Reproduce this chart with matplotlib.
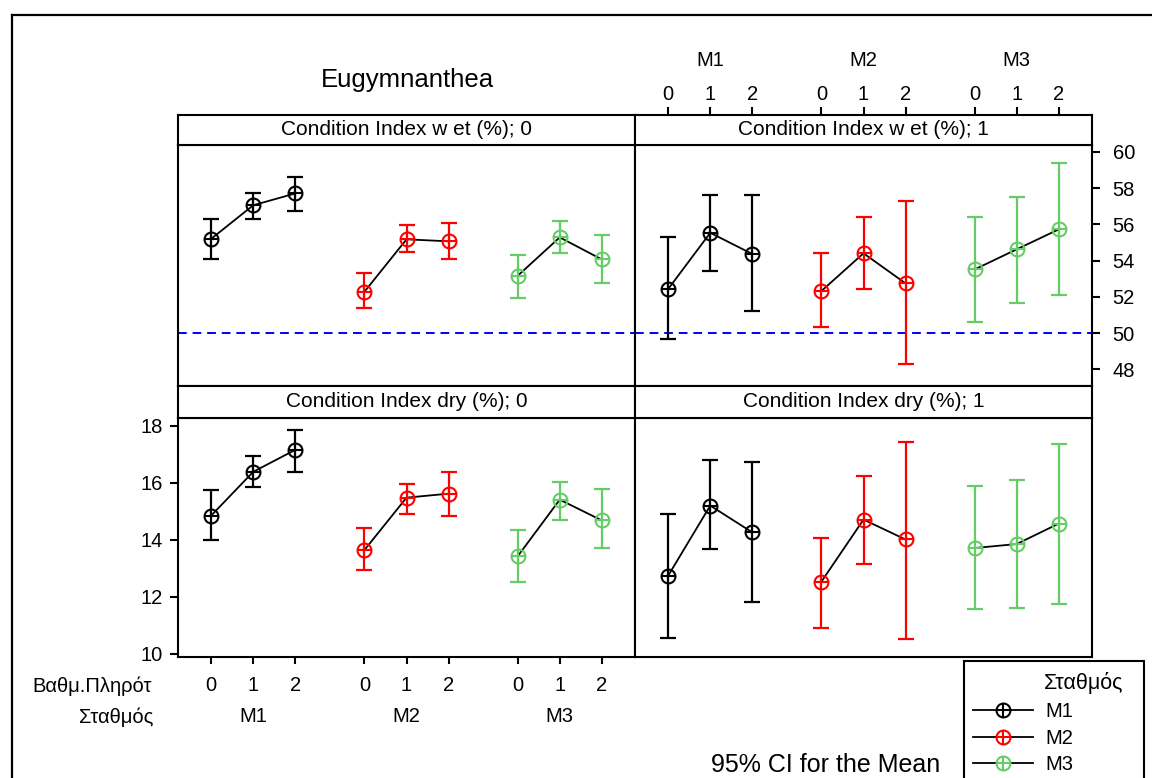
import matplotlib
matplotlib.use('Agg')
import matplotlib.pyplot as plt
from matplotlib.lines import Line2D
from matplotlib.patches import Rectangle
from matplotlib.legend_handler import HandlerTuple
import matplotlib.transforms as mtransforms
import numpy as np

plt.rcParams['font.family'] = ['Liberation Sans', 'DejaVu Sans']

# ---------------- data ----------------
stations = ['M1', 'M2', 'M3']
levels = ['0', '1', '2']
station_colors = ['#000000', '#FF0000', '#66CC66']

# Condition Index wet (%); 0   rows = stations, cols = levels
wet0_mean = [[55.20, 57.05, 57.70], [52.28, 55.17, 55.06], [53.16, 55.28, 54.06]]
wet0_low = [[54.08, 56.29, 56.73], [51.40, 54.49, 54.06], [51.95, 54.40, 52.76]]
wet0_high = [[56.29, 57.74, 58.60], [53.31, 55.94, 56.07], [54.30, 56.18, 55.39]]

# Condition Index wet (%); 1
wet1_mean = [[52.43, 55.53, 54.36], [52.32, 54.40, 52.74], [53.51, 54.62, 55.72]]
wet1_low = [[49.65, 53.40, 51.20], [50.32, 52.41, 48.29], [50.63, 51.64, 52.08]]
wet1_high = [[55.28, 57.59, 57.59], [54.40, 56.38, 57.30], [56.38, 57.48, 59.39]]

# Condition Index dry (%); 0
dry0_mean = [[14.85, 16.39, 17.16], [13.64, 15.48, 15.62], [13.42, 15.41, 14.68]]
dry0_low = [[13.99, 15.84, 16.39], [12.94, 14.92, 14.85], [12.53, 14.71, 13.71]]
dry0_high = [[15.76, 16.94, 17.86], [14.43, 15.97, 16.39], [14.34, 16.04, 15.77]]

# Condition Index dry (%); 1
dry1_mean = [[12.74, 15.20, 14.26], [12.53, 14.71, 14.01], [13.71, 13.85, 14.57]]
dry1_low = [[10.56, 13.66, 11.83], [10.91, 13.16, 10.50], [11.55, 11.61, 11.76]]
dry1_high = [[14.91, 16.81, 16.75], [14.06, 16.25, 17.44], [15.89, 16.11, 17.38]]

strip_titles = ['Condition Index w et (%); 0', 'Condition Index w et (%); 1',
                'Condition Index dry (%); 0', 'Condition Index dry (%); 1']
wet_ticks = [48, 50, 52, 54, 56, 58, 60]
dry_ticks = [10, 12, 14, 16, 18]
ref_value = 50
title = 'Eugymnanthea'
ci_note = '95% CI for the Mean'
level_name = 'Βαθμ.Πληρότ'
group_name = 'Σταθμός'

# ---------------- layout ----------------
W, H = 1152, 778
fig = plt.figure(figsize=(W / 100, H / 100), dpi=100)
fig.patch.set_facecolor('white')


def fx(px):
    return px / W


def fy(py):
    return 1 - py / H


group_step = 3.645
xpos = [[g * group_step + j for j in range(len(levels))] for g in range(len(stations))]
xlim = (-0.79, xpos[-1][-1] + 0.79)
wet_lim = (47.08, 60.40)
dry_lim = (9.88, 18.29)

cols = [(178, 635), (635, 1092)]
rows = [(115, 144.5, 386), (386, 417.7, 657)]

panels = [
    (wet0_mean, wet0_low, wet0_high),
    (wet1_mean, wet1_low, wet1_high),
    (dry0_mean, dry0_low, dry0_high),
    (dry1_mean, dry1_low, dry1_high),
]

LW = 1.5
axes = []
strips = []
for r, (st, pt, pb) in enumerate(rows):
    for c, (x0, x1) in enumerate(cols):
        ax = fig.add_axes([fx(x0), fy(pb), (x1 - x0) / W, (pb - pt) / H])
        sax = fig.add_axes([fx(x0), fy(pt), (x1 - x0) / W, (pt - st) / H])
        for a in (ax, sax):
            a.set_xlim(*xlim)
            a.set_xticks([])
            a.set_yticks([])
            for s in a.spines.values():
                s.set_linewidth(LW)
        sax.set_ylim(0, 1)
        sax.text(0.5, 0.5, strip_titles[r * 2 + c], transform=sax.transAxes,
                 ha='center', va='center', fontsize=15)
        ax.set_ylim(*(wet_lim if r == 0 else dry_lim))
        axes.append(ax)
        strips.append(sax)

MS = 10
MEW = 1.5
for k, ax in enumerate(axes):
    mean, low, high = panels[k]
    if k < 2:
        ax.axhline(ref_value, color='#0000FF', lw=1.4, ls=(0, (4.5, 3)), zorder=1)
    for g in range(len(stations)):
        m = np.array(mean[g])
        lo = np.array(low[g])
        hi = np.array(high[g])
        col = station_colors[g]
        ax.errorbar(xpos[g], m, yerr=[m - lo, hi - m], fmt='none', ecolor=col,
                    elinewidth=1.6, capsize=5.8, capthick=1.6, zorder=2)
        ax.plot(xpos[g], m, color='black', lw=1.3, zorder=3)
        ax.plot(xpos[g], m, ls='none', marker='o', ms=MS, mfc='none', mec=col,
                mew=MEW, zorder=4)
        ax.plot(xpos[g], m, ls='none', marker='+', ms=MS, mec=col, mew=MEW, zorder=4)

flat_pos = [p for grp in xpos for p in grp]
flat_lab = levels * len(stations)
group_centers = [grp[1] for grp in xpos]

# top right: y ticks on right
ax = axes[1]
ax.yaxis.tick_right()
ax.set_yticks(wet_ticks)
ax.tick_params(axis='y', direction='out', length=5.8, width=LW, labelsize=14.5, pad=9)

# top strip of right column: top x ticks
sax = strips[1]
sax.xaxis.tick_top()
sax.set_xticks(flat_pos, flat_lab)
sax.tick_params(axis='x', direction='out', length=5.8, width=LW, labelsize=14.5, pad=2)
tr = mtransforms.blended_transform_factory(sax.transData, fig.transFigure)
for gc, name in zip(group_centers, stations):
    sax.text(gc, fy(60.5), name, transform=tr, ha='center', va='center', fontsize=14.5)

# bottom left: y ticks left and bottom x ticks
ax = axes[2]
ax.set_yticks(dry_ticks)
ax.tick_params(axis='y', direction='out', length=5.8, width=LW, labelsize=14.5, pad=5)
ax.set_xticks(flat_pos, flat_lab)
ax.tick_params(axis='x', direction='out', length=5, width=LW, labelsize=14.5, pad=9)
tr = mtransforms.blended_transform_factory(ax.transData, fig.transFigure)
for gc, name in zip(group_centers, stations):
    ax.text(gc, fy(717), name, transform=tr, ha='center', va='center', fontsize=14.5)

fig.text(fx(152), fy(686), level_name, ha='right', va='center', fontsize=14.5)
fig.text(fx(153), fy(717), group_name, ha='right', va='center', fontsize=14.5)

# title & note
fig.text(fx(407), fy(80), title, ha='center', va='center', fontsize=18.5)
fig.text(fx(940), fy(765), ci_note, ha='right', va='center', fontsize=18)

# outer frame (top and left edges)
fig.add_artist(Line2D([fx(12), fx(12)], [fy(15), -0.01], color='black', lw=1.6,
                      transform=fig.transFigure))
fig.add_artist(Line2D([fx(12), 1.01], [fy(15), fy(15)], color='black', lw=1.6,
                      transform=fig.transFigure))

# legend box
fig.add_artist(Rectangle((fx(964), -0.05), fx(1144) - fx(964), fy(661) + 0.05,
                         transform=fig.transFigure, fill=False, lw=1.5, ec='black'))
fig.text(fx(1044), fy(683), group_name, ha='left', va='center', fontsize=15.5)
handles = []
for name, col in zip(stations, station_colors):
    h1 = Line2D([], [], color='black', lw=1.3, marker='o', ms=MS, mfc='none', mec=col, mew=MEW)
    h2 = Line2D([], [], ls='none', marker='+', ms=MS, mec=col, mew=MEW)
    handles.append((h1, h2))
fig.legend(handles, stations, loc='upper left', bbox_to_anchor=(fx(973), fy(702)),
           bbox_transform=fig.transFigure, frameon=False, fontsize=14.5,
           borderpad=0, borderaxespad=0, handlelength=3.0, handletextpad=0.6,
           labelspacing=0.38, handler_map={tuple: HandlerTuple(ndivide=1, pad=0)})

fig.savefig('out.png', dpi=100, facecolor='white')
